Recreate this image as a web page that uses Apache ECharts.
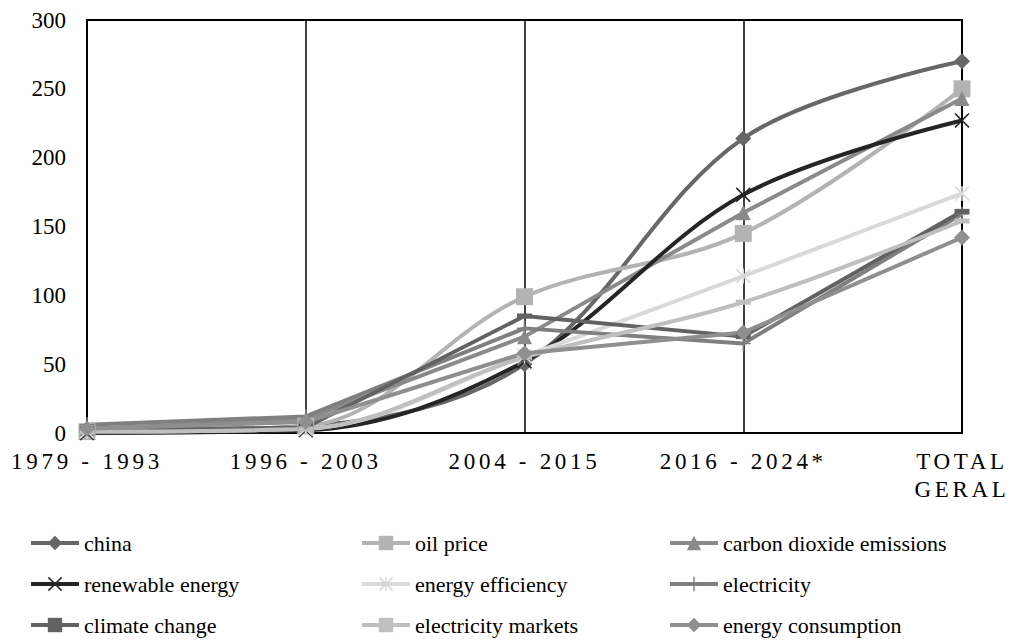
<!DOCTYPE html>
<html>
<head>
<meta charset="utf-8">
<script src="https://cdn.jsdelivr.net/npm/echarts@6/dist/echarts.min.js"></script>
<style>
    html, body { margin: 0; padding: 0; background: #fff; }
    #chart { width: 1011px; height: 641px; }
</style>
</head>
<body>
<div id="chart"></div>
<script>
const categories = ['1979 - 1993', '1996 - 2003', '2004 - 2015', '2016 - 2024*', 'TOTAL GERAL'];
const yTicks = [0, 50, 100, 150, 200, 250, 300];

const china = [1, 5, 50, 214, 270];
const oilPrice = [1, 5, 99, 145, 250];
const carbonDioxide = [3, 10, 70, 160, 243];
const renewableEnergy = [0, 2, 52, 173, 227];
const energyEfficiency = [1, 3, 56, 114, 174];
const electricity = [6, 12, 76, 65, 159];
const climateChange = [2, 4, 85, 70, 161];
const electricityMarkets = [1, 3, 55, 95, 154];
const energyConsumption = [3, 8, 58, 73, 142];

// ordem da legenda: 3 colunas x 3 linhas
const legendGrid = [
    ['china', 'oil price', 'carbon dioxide emissions'],
    ['renewable energy', 'energy efficiency', 'electricity'],
    ['climate change', 'electricity markets', 'energy consumption']
];

const FONT = 'Liberation Serif, DejaVu Serif, serif';

// marcadores desenhados como poligonos
const SYM_X = 'path://M0,1.5 L1.5,0 L10,8.5 L18.5,0 L20,1.5 L11.5,10 L20,18.5 L18.5,20 L10,11.5 L1.5,20 L0,18.5 L8.5,10 Z';
const SYM_PLUS = 'path://M9,0 H11 V9 H20 V11 H11 V20 H9 V11 H0 V9 H9 Z';
const SYM_STAR = 'path://M0,1.5 L1.5,0 L10,8.5 L18.5,0 L20,1.5 L11.5,10 L20,18.5 L18.5,20 L10,11.5 L1.5,20 L0,18.5 L8.5,10 Z M9,0 H11 V20 H9 Z';

const mkSeries = function (name, data, color, symbol, size, smooth) {
    return {
        name: name,
        type: 'line',
        data: data,
        smooth: smooth ? 0.35 : false,
        symbol: symbol,
        symbolSize: size,
        showSymbol: true,
        lineStyle: { color: color, width: 4 },
        itemStyle: { color: color, borderWidth: 0 }
    };
};

const colLeft = [24, 355, 663];
const rowTop = [527, 568, 609];
const legends = [];
legendGrid.forEach(function (row, r) {
    row.forEach(function (name, c) {
        legends.push({
            left: colLeft[c],
            top: rowTop[r],
            itemWidth: 48,
            itemHeight: 18,
            data: [name],
            lineStyle: { width: 4 },
            textStyle: { fontFamily: FONT, fontSize: 22, color: '#000' }
        });
    });
});

const myChart = echarts.init(document.getElementById('chart'), null, { renderer: 'svg' });

const option = {
    animation: false,
    backgroundColor: '#fff',
    textStyle: { fontFamily: FONT },
    grid: { left: 87, right: 49, top: 20, bottom: 208, show: true, borderColor: '#000', borderWidth: 2 },
    xAxis: {
        type: 'category',
        boundaryGap: false,
        data: categories,
        axisLine: { lineStyle: { color: '#000', width: 2 } },
        axisTick: { show: false },
        splitLine: { show: true, lineStyle: { color: '#000', width: 1.5 } },
        axisLabel: {
            interval: 0,
            color: '#000',
            fontFamily: FONT,
            fontSize: 23,
            lineHeight: 28,
            margin: 14,
            formatter: function (v) { return v === 'TOTAL GERAL' ? 'TOTAL\nGERAL' : v; }
        }
    },
    yAxis: {
        type: 'value',
        min: yTicks[0],
        max: yTicks[yTicks.length - 1],
        interval: 50,
        axisLine: { show: true, lineStyle: { color: '#000', width: 2 } },
        axisTick: { show: false },
        splitLine: { show: false },
        axisLabel: { color: '#000', fontFamily: FONT, fontSize: 23, margin: 21 }
    },
    legend: legends,
    series: [
        mkSeries('china', china, '#676767', 'diamond', 16, true),
        mkSeries('oil price', oilPrice, '#b3b3b3', 'rect', 17, true),
        mkSeries('carbon dioxide emissions', carbonDioxide, '#8a8a8a', 'triangle', 15, false),
        mkSeries('renewable energy', renewableEnergy, '#252525', SYM_X, 15, true),
        mkSeries('energy efficiency', energyEfficiency, '#d9d9d9', SYM_STAR, 15, true),
        mkSeries('electricity', electricity, '#7f7f7f', SYM_PLUS, 15, false),
        mkSeries('climate change', climateChange, '#626262', 'rect', [15, 5], false),
        mkSeries('electricity markets', electricityMarkets, '#bfbfbf', 'rect', [15, 5], true),
        mkSeries('energy consumption', energyConsumption, '#8f8f8f', 'diamond', 16, false)
    ]
};

myChart.setOption(option);

// espacamento entre letras nos rotulos do eixo x (e fonte serifada)
const xLabelSet = new Set(['1979 - 1993', '1996 - 2003', '2004 - 2015', '2016 - 2024*', 'TOTAL', 'GERAL']);
const spaceLabels = function () {
    document.querySelectorAll('#chart svg text').forEach(function (t) {
        t.style.fontFamily = '"Liberation Serif", "DejaVu Serif", serif';
        if (xLabelSet.has(t.textContent.trim())) t.style.letterSpacing = '3.7px';
    });
};
spaceLabels();
myChart.on('finished', spaceLabels);
</script>
</body>
</html>
